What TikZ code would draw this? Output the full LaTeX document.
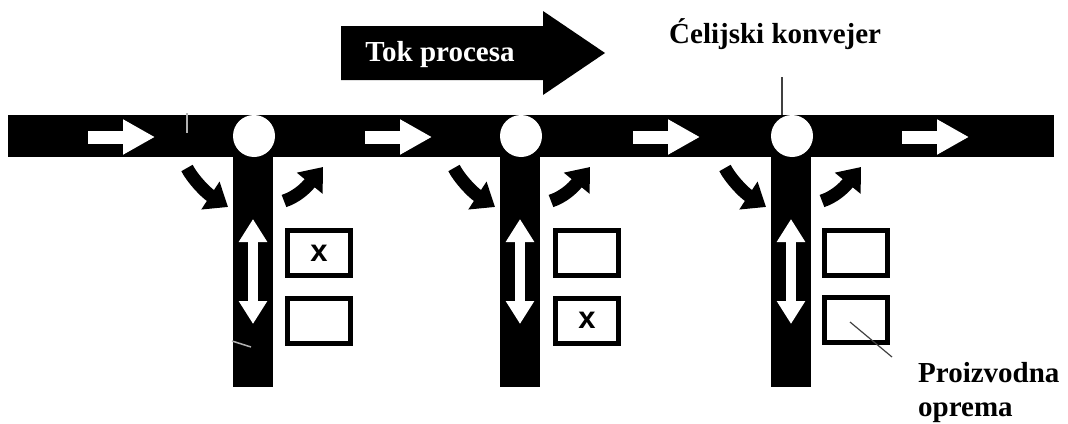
\documentclass[tikz,border=0pt]{standalone}
\usepackage{fontspec}
\setmainfont{Liberation Serif}
\newfontfamily\boxfont{Liberation Sans}
\usetikzlibrary{arrows.meta}
\begin{document}
\begin{tikzpicture}[x=1pt,y=-1pt,
  lbl/.style={inner sep=0pt,font=\fontsize{29pt}{34pt}\selectfont\bfseries},
  station/.style={draw=black,fill=white,line width=5pt,minimum width=63pt,minimum height=45pt,inner sep=0pt,font=\boxfont\fontsize{31pt}{31pt}\selectfont\bfseries},
  joint/.style={circle,fill=white,minimum size=42pt,inner sep=0pt},
  flowarrow/.style={white,line width=13pt,-{Triangle[length=32pt,width=33pt]}},
  turnarrow/.style={black,line width=13pt,-{Triangle[length=21pt,width=32pt]}},
  movearrow/.style={white,line width=10pt,{Triangle[length=23pt,width=27pt]}-{Triangle[length=23pt,width=27pt]}},
  leader/.style={draw=black!75,line width=1.2pt},
  stray/.style={draw=gray!60,line width=1.5pt}]
\useasboundingbox (0,0) rectangle (1068,423);
\fill[white] (0,0) rectangle (1068,423);

% big process arrow
\fill[black] (341,26) -- (543,26) -- (543,11) -- (605,53) -- (543,95) -- (543,80) -- (341,80) -- cycle;
\node[lbl,text=white,anchor=base] (tok) at (440,61) {Tok procesa};

% main conveyor band
\fill[black] (8,115) rectangle (1054,157);

% branches
\foreach \cx/\nm in {253/a,520/b,791/c}{
  \fill[black] (\cx-20,150) rectangle (\cx+20,387);
  \node[joint] (j\nm) at (\cx+1,136) {};
  \draw[turnarrow] (\cx-66,168) .. controls (\cx-61,178) and (\cx-48,192) .. (\cx-25,207);
  \draw[turnarrow] (\cx+31,201) .. controls (\cx+43,197) and (\cx+52,189) .. (\cx+70,167);
  \coordinate (mt\nm) at (\cx,219);
  \coordinate (mb\nm) at (\cx,324);
  \draw[movearrow] (mt\nm) -- (mb\nm);
}

% flow arrows in band
\foreach \sx in {88,365,633,902}{
  \draw[flowarrow] (\sx,137) -- (\sx+67,137);
}

% stations
\node[station] (a1) at (319,253) {x};
\node[station] (a2) at (319,320.5) {};
\node[station] (b1) at (587,253) {};
\node[station] (b2) at (587,320.5) {x};
\node[station] (c1) at (856,253) {};
\node[station] (c2) at (856,320) {};

% labels
\node[lbl,anchor=base west] (cel) at (669,43) {Ćelijski konvejer};
\node[lbl,anchor=north west,align=left] (opr) at (918,362) {Proizvodna\\oprema};

% leader lines
\coordinate (cl1) at (782,77);
\coordinate (cl2) at (782,115);
\draw[leader] (cl1) -- (cl2);
\coordinate (pl1) at (850,322);
\coordinate (pl2) at (892,357);
\draw[leader] (pl1) -- (pl2);

% small stray marks
\coordinate (s1) at (187,113);
\coordinate (s2) at (187,133);
\draw[stray] (s1) -- (s2);
\coordinate (s3) at (232,341);
\coordinate (s4) at (251,347);
\draw[stray] (s3) -- (s4);
\end{tikzpicture}
\end{document}
